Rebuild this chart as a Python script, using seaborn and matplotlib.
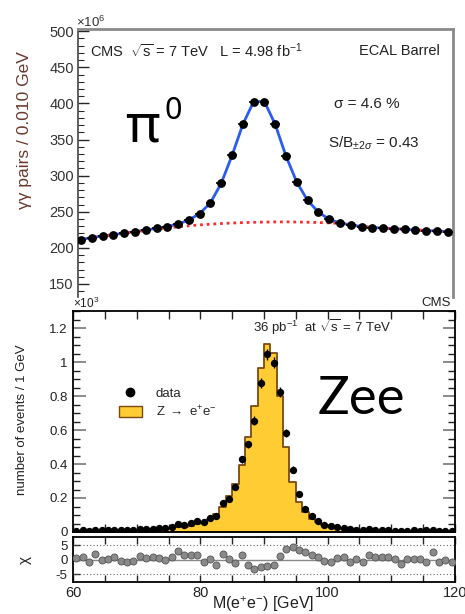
import numpy as np
import pandas as pd
import matplotlib
matplotlib.use("Agg")
import matplotlib.pyplot as plt
import seaborn as sns
from matplotlib.ticker import MultipleLocator
from matplotlib.lines import Line2D
from matplotlib.patches import Patch

# ---------------- data: pi0 panel ----------------
pi0_mass = [0.095 + 0.0025 * i for i in range(35)]
pi0_counts = [211.5, 214.3, 216.5, 217.9, 220.7, 222.5, 224.8, 227.1, 229.4, 233.0,
              238.6, 247.3, 262.5, 289.5, 328.0, 371.0, 402.0, 402.0, 371.0, 327.0,
              291.0, 265.7, 249.6, 239.5, 235.0, 231.7, 229.4, 228.0, 227.5, 226.7,
              225.7, 224.8, 224.0, 223.4, 222.5]
pi0_fit = [211.5, 214.2, 216.4, 218.3, 220.5, 222.5, 224.7, 227.0, 229.5, 233.0,
           238.6, 247.5, 262.5, 289.5, 328.0, 371.0, 402.5, 402.5, 371.0, 327.0,
           291.0, 265.7, 249.6, 239.5, 234.6, 231.8, 229.6, 228.2, 227.4, 226.6,
           225.7, 224.8, 224.0, 223.3, 222.5]
pi0_bkg = [211.5, 214.2, 216.4, 218.3, 220.3, 222.2, 224.1, 225.9, 227.6, 229.2,
           230.6, 231.8, 232.8, 233.7, 234.4, 235.0, 235.4, 235.7, 235.9, 236.0,
           235.8, 235.5, 235.1, 234.6, 233.8, 232.0, 229.8, 228.2, 227.4, 226.6,
           225.7, 224.8, 224.0, 223.3, 222.5]
pi0_yticks = [150, 200, 250, 300, 350, 400, 450, 500]

# ---------------- data: Zee panel (x10^3 events / GeV) ----------------
zee_edges = list(range(60, 121))
zee_centers = [60.5 + k for k in range(60)]
zee_data = [0.008, 0.009, 0.007, 0.012, 0.010, 0.010, 0.013, 0.011, 0.010, 0.012,
            0.019, 0.018, 0.020, 0.022, 0.022, 0.031, 0.045, 0.043, 0.053, 0.065,
            0.060, 0.082, 0.093, 0.172, 0.197, 0.265, 0.427, 0.515, 0.655, 0.879,
            1.045, 0.996, 0.825, 0.583, 0.367, 0.221, 0.138, 0.093, 0.064, 0.042,
            0.034, 0.031, 0.026, 0.016, 0.014, 0.012, 0.017, 0.014, 0.014, 0.012,
            0.008, 0.006, 0.008, 0.009, 0.008, 0.011, 0.013, 0.006, 0.006, 0.006]
zee_mc = [0.007, 0.007, 0.008, 0.008, 0.009, 0.009, 0.010, 0.010, 0.011, 0.012,
          0.013, 0.014, 0.016, 0.018, 0.020, 0.023, 0.027, 0.032, 0.038, 0.046,
          0.053, 0.079, 0.108, 0.147, 0.210, 0.285, 0.393, 0.557, 0.744, 0.964,
          1.108, 1.054, 0.800, 0.500, 0.294, 0.175, 0.115, 0.079, 0.056, 0.039,
          0.030, 0.025, 0.020, 0.016, 0.014, 0.012, 0.011, 0.010, 0.009, 0.008,
          0.007, 0.007, 0.006, 0.006, 0.006, 0.005, 0.005, 0.005, 0.005, 0.004]
zee_chi = [0.6, 1.0, -0.9, 2.0, 0.0, 0.2, 1.0, -0.4, -0.9, -0.4,
           1.2, 0.5, 0.9, 0.5, 0.1, 1.0, 3.0, 1.6, 1.8, 1.7,
           -0.6, 0.4, -1.7, 2.1, 0.2, -1.0, 1.8, -1.7, -3.2, -2.5,
           -2.0, -1.8, 1.4, 3.8, 4.3, 3.4, 2.5, 1.7, 0.9, -0.5,
           -0.6, 0.6, 0.9, -0.9, 0.2, -0.7, 1.5, 0.9, 0.9, 1.1,
           0.3, -1.4, 0.2, 0.2, 0.2, -0.6, 2.8, -0.6, 0.0, -0.6]
zee_yticks = [0, 0.2, 0.4, 0.6, 0.8, 1.0, 1.2]
zee_yticklabels = ["0", "0.2", "0.4", "0.6", "0.8", "1", "1.2"]
x_ticks = [60, 80, 100, 120]
chi_ticks = [-5, 0, 5]

# ---------------- style ----------------
sns.set_theme(style="white")
plt.rcParams['font.family'] = ['Liberation Sans', 'DejaVu Sans']
plt.rcParams['mathtext.fontset'] = 'custom'
plt.rcParams['mathtext.rm'] = 'Liberation Sans'
plt.rcParams['mathtext.it'] = 'Liberation Sans:italic'
plt.rcParams['mathtext.sf'] = 'Liberation Sans'

W, H = 465, 614
fig = plt.figure(figsize=(W / 100, H / 100), dpi=100)
fig.patch.set_facecolor('white')

def fx(x):
    return x / W

def fy(y):
    return 1 - y / H

# ---------------- top pi0 panel ----------------
ax1 = fig.add_axes([fx(78), fy(297), (453 - 78) / W, (297 - 29) / H])
ax1.set_facecolor('white')
bin_w = 0.0025
df_pi = pd.DataFrame({'m': pi0_mass, 'n': pi0_counts, 'fit': pi0_fit, 'bkg': pi0_bkg})
sns.lineplot(data=df_pi, x='m', y='fit', color='#2a5cf0', lw=2.0, ax=ax1, zorder=2)
sns.lineplot(data=df_pi, x='m', y='bkg', color='#ff2a2a', lw=2.0, ax=ax1, zorder=3)
ax1.lines[-1].set_linestyle((0, (1, 1.4)))
ax1.errorbar(pi0_mass, pi0_counts, xerr=bin_w * 0.45, fmt='none', ecolor='black',
             elinewidth=1.2, capsize=0, zorder=4)
sns.scatterplot(data=df_pi, x='m', y='n', color='black', s=40, edgecolor='black',
                linewidth=0, ax=ax1, zorder=5)
ax1.set_xlim(0.0943, 0.1812)
ax1.set_ylim(132, 503)
ax1.set_yticks(pi0_yticks)
ax1.set_yticklabels([str(t) for t in pi0_yticks], fontsize=10.5, color='#333333')
ax1.yaxis.set_minor_locator(MultipleLocator(10))
ax1.tick_params(axis='y', which='major', direction='in', length=8, width=1, left=True, right=False, pad=3)
ax1.tick_params(axis='y', which='minor', direction='in', length=4, width=0.8, left=True, right=False)
ax1.set_xticks([])
ax1.set_xlabel('')
ax1.set_ylabel('')
ax1.spines['bottom'].set_visible(False)
ax1.spines['left'].set_color('#444444')
ax1.spines['left'].set_linewidth(1.2)
for s in ['top', 'right']:
    ax1.spines[s].set_color('#8a8a8a')
    ax1.spines[s].set_linewidth(2.0)

fig.text(fx(25), fy(130), 'γγ pairs / 0.010 GeV', rotation=90, ha='center', va='center',
         fontsize=12.5, color='#6b3a2e')
fig.text(fx(76), fy(22), r'$\times$10$^{6}$', ha='left', va='center', fontsize=9.5, color='#333333')
fig.text(fx(90), fy(51), r'CMS  $\sqrt{\mathrm{s}}$ = 7 TeV   L = 4.98 fb$^{\mathrm{-1}}$',
         ha='left', va='center', fontsize=10.5, color='#222222')
fig.text(fx(440), fy(51), 'ECAL Barrel', ha='right', va='center', fontsize=10.5, color='#222222')
fig.text(fx(334), fy(104), 'σ = 4.6 %', ha='left', va='center', fontsize=11, color='#222222')
fig.text(fx(328), fy(143), r'S/B$_{\pm 2\sigma}$ = 0.43', ha='left', va='center', fontsize=11,
         color='#222222')
fig.text(fx(125), fy(128), 'π', ha='left', va='center', fontsize=38,
         family=['Noto Sans', 'DejaVu Sans'], color='black')
fig.text(fx(164), fy(111), '0', ha='left', va='center', fontsize=22,
         family=['Noto Sans', 'DejaVu Sans'], color='black')

# ---------------- middle Zee panel ----------------
ax2 = fig.add_axes([fx(73), fy(532), (455 - 73) / W, (532 - 311) / H])
ax2.set_facecolor('white')
df_z = pd.DataFrame({'m': zee_centers, 'data': zee_data, 'mc': zee_mc, 'chi': zee_chi})
sns.histplot(data=df_z, x='m', weights='mc', bins=zee_edges, element='step', fill=True,
             color='#ffcc33', edgecolor='#7a4a12', linewidth=1.3, alpha=1.0, ax=ax2, zorder=1)
zerr = np.sqrt(np.array(zee_data) / 1000.0)
ax2.errorbar(zee_centers, zee_data, yerr=zerr, xerr=0.45, fmt='none', ecolor='black',
             elinewidth=1.0, capsize=0, zorder=4)
sns.scatterplot(data=df_z, x='m', y='data', color='black', s=28, linewidth=0, ax=ax2, zorder=5)
ax2.set_xlim(60, 120)
ax2.set_ylim(0, 1.3)
ax2.set_yticks(zee_yticks)
ax2.set_yticklabels(zee_yticklabels, fontsize=9.5, color='#222222')
ax2.yaxis.set_minor_locator(MultipleLocator(0.05))
ax2.set_xticks(x_ticks)
ax2.xaxis.set_minor_locator(MultipleLocator(5))
ax2.tick_params(axis='x', which='both', labelbottom=False, bottom=True, top=True, direction='in')
ax2.tick_params(axis='x', which='major', length=6, width=1)
ax2.tick_params(axis='x', which='minor', length=6, width=1)
ax2.tick_params(axis='y', which='major', direction='in', length=9, width=1.2, left=True, right=True,
                pad=4, colors='#777777', labelcolor='#222222')
ax2.tick_params(axis='y', which='minor', direction='in', length=5, width=1, left=True, right=True,
                colors='#222222')
ax2.set_xlabel('')
ax2.set_ylabel('')
for s in ['top', 'right', 'left', 'bottom']:
    ax2.spines[s].set_color('black')
    ax2.spines[s].set_linewidth(1.3)

fig.text(fx(22), fy(420), 'number of events / 1 GeV', rotation=90, ha='center', va='center',
         fontsize=9.5, color='#222222')
fig.text(fx(73), fy(303), r'$\times$10$^{3}$', ha='left', va='center', fontsize=8.5, color='#222222')
fig.text(fx(451), fy(303), 'CMS', ha='right', va='center', fontsize=9.5, color='#222222')
fig.text(fx(253), fy(327), r'36 pb$^{\mathrm{-1}}$  at $\sqrt{\mathrm{s}}$ = 7 TeV', ha='left',
         va='center', fontsize=9.5, color='#222222')
fig.text(fx(318), fy(399), 'Zee', ha='left', va='center', fontsize=38,
         family=['Lato', 'DejaVu Sans'], color='black')

handles = [Line2D([0], [0], marker='o', color='black', linestyle='none', markersize=6),
           Patch(facecolor='#ffcc33', edgecolor='#7a4a12', linewidth=1.0)]
leg = ax2.legend(handles, ['data', r'Z $\rightarrow$ e$^{+}$e$^{-}$'], loc='upper left',
                 bbox_to_anchor=((112 - 73) / 382, (532 - 380) / 221), frameon=False,
                 fontsize=9.5, handlelength=1.8, handleheight=1.0, handletextpad=1.0,
                 labelspacing=0.3, borderpad=0)

# ---------------- chi panel ----------------
ax3 = fig.add_axes([fx(73), fy(582), (455 - 73) / W, (582 - 537) / H])
ax3.set_facecolor('white')
ax3.axhline(0, color='#888888', lw=1.0, zorder=1)
ax3.axhline(5, color='#666666', lw=0.8, ls=(0, (1, 2)), zorder=1)
ax3.axhline(-5, color='#666666', lw=0.8, ls=(0, (1, 2)), zorder=1)
ax3.errorbar(zee_centers, zee_chi, yerr=1.0, fmt='none', ecolor='#555555', elinewidth=0.9,
             capsize=0, zorder=3)
sns.scatterplot(data=df_z, x='m', y='chi', color='#8a8a8a', s=26, edgecolor='#555555',
                linewidth=0.6, ax=ax3, zorder=4)
ax3.set_xlim(60, 120)
ax3.set_ylim(-7.6, 7.8)
ax3.set_yticks(chi_ticks)
ax3.set_yticklabels(['-5', '0', '5'], fontsize=9.5, color='#222222')
ax3.set_xticks(x_ticks)
ax3.set_xticklabels([str(t) for t in x_ticks], fontsize=10.5, color='#222222')
ax3.xaxis.set_minor_locator(MultipleLocator(5))
ax3.tick_params(axis='x', which='both', direction='in', bottom=True, top=True, length=5, width=1, pad=3)
ax3.tick_params(axis='y', which='major', direction='in', left=True, right=False, length=5, width=1, pad=4)
ax3.set_xlabel('')
ax3.set_ylabel('')
for s in ['top', 'right', 'left', 'bottom']:
    ax3.spines[s].set_color('black')
    ax3.spines[s].set_linewidth(1.3)
fig.text(fx(25), fy(560), 'χ', rotation=90, ha='center', va='center', fontsize=11, color='#222222')
fig.text(fx(263), fy(604), r'M(e$^{+}$e$^{-}$) [GeV]', ha='center', va='center', fontsize=11.5,
         color='#222222')

fig.savefig('out.png', dpi=100)
